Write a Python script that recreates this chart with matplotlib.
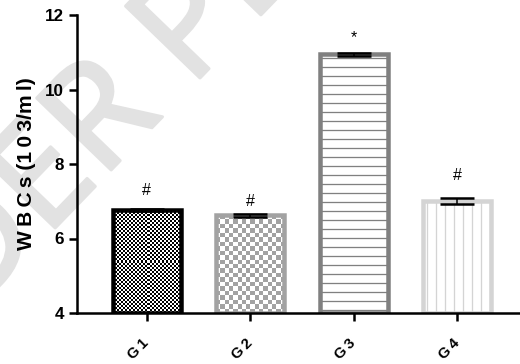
import numpy as np
import matplotlib
matplotlib.use('Agg')
import matplotlib.pyplot as plt
import matplotlib.patheffects as pe
from matplotlib.colors import ListedColormap
from matplotlib.font_manager import FontProperties
from matplotlib.textpath import TextPath

DPI = 108
W, H = 520, 364
THIN = '\u2009'


def px(n):
    # pixel sizes -> points at the output dpi
    return n * 72.0 / DPI


groups = ['G1', 'G2', 'G3', 'G4']
wbc_mean = [6.76, 6.62, 10.95, 7.00]
wbc_err = [0.02, 0.04, 0.04, 0.075]
marks = ['#', '#', '*', '#']
mark_y = [7.28, 7.00, 11.40, 7.68]
yticks = [4, 6, 8, 10, 12]
ybase = 4
ylabel = THIN.join('WBCs') + ' (' + THIN.join('103') + '/m' + THIN + 'l)'

edge_colors = ['black', '#a2a2a2', '#808080', '#d4d4d4']
wm_color = '#e2e2e2'

plt.rcParams['font.family'] = ['Liberation Sans', 'DejaVu Sans']
plt.rcParams['hatch.linewidth'] = px(1.3)

fig = plt.figure(figsize=(W / DPI, H / DPI), dpi=DPI)

# faint watermark behind everything, placed so the P stem foot sits at (200, 286) px
wm_text, wm_angle, wm_em = 'UNDER PEER REVIEW', 46, 145
wm_font = FontProperties(family='Noto Sans', stretch='condensed')
p_off = (TextPath((0, 0), 'UNDER P', size=wm_em, prop=wm_font).get_extents().x1
         - TextPath((0, 0), 'P', size=wm_em, prop=wm_font).get_extents().width)
a = np.radians(wm_angle)
wm_x = 200 - p_off * np.cos(a)
wm_y = 286 - p_off * np.sin(a)
fig.text(wm_x / W, wm_y / H, wm_text, fontproperties=wm_font, fontsize=px(wm_em),
         color=wm_color, rotation=wm_angle, rotation_mode='anchor',
         ha='left', va='baseline', zorder=-1,
         path_effects=[pe.withStroke(linewidth=px(3), foreground=wm_color,
                                     capstyle='round', joinstyle='round')])

ax = fig.add_axes([77 / W, 51 / H, 443 / W, 298 / H])
ax.patch.set_visible(False)

x = np.arange(len(groups))
bars = ax.bar(x, np.subtract(wbc_mean, ybase), bottom=ybase, width=0.66,
              facecolor='white', edgecolor=edge_colors, linewidth=px(4.5), zorder=2)
bars[0].set_facecolor('none')
bars[1].set_facecolor('none')
bars[2].set_hatch('--')
bars[3].set_hatch('||')

ax.set_xlim(-0.673, 3.607)
ax.set_ylim(4, 12)


def checker_fill(bar, cell, color):
    x0, y0 = bar.get_x(), bar.get_y()
    x1, y1 = x0 + bar.get_width(), y0 + bar.get_height()
    (p0, q0), (p1, q1) = ax.transData.transform([(x0, y0), (x1, y1)])
    nx = max(1, int(round((p1 - p0) / cell)))
    ny = max(1, int(round((q1 - q0) / cell)))
    board = np.add.outer(np.arange(ny), np.arange(nx)) % 2
    im = ax.imshow(board, cmap=ListedColormap(['white', color]), extent=(x0, x1, y0, y1),
                   interpolation='nearest', aspect='auto', zorder=1)
    im.set_clip_path(bar)


checker_fill(bars[0], 2, 'black')
checker_fill(bars[1], 4.4, '#a2a2a2')
ax.set_xlim(-0.673, 3.607)
ax.set_ylim(4, 12)

ax.errorbar(x, wbc_mean, yerr=wbc_err, fmt='none', ecolor='black', elinewidth=px(1.5),
            capsize=px(17), capthick=px(2.5), zorder=3)

for xi, m, yi in zip(x, marks, mark_y):
    ax.text(xi, yi, m, ha='center', va='center', fontsize=px(16))

for side in ['top', 'right']:
    ax.spines[side].set_visible(False)
for side in ['left', 'bottom']:
    ax.spines[side].set_linewidth(px(2.5))

ax.set_yticks(yticks)
ax.set_yticklabels([str(t) for t in yticks], fontweight='bold', fontsize=px(17))
ax.tick_params(axis='y', length=px(8), width=px(2.5), pad=px(5))

ax.set_xticks(x)
ax.set_xticklabels([g[0] + THIN + g[1:] for g in groups], rotation=45, ha='right',
                   va='center', rotation_mode='anchor', fontweight='bold', fontsize=px(15))
ax.tick_params(axis='x', length=px(8), width=px(2.5), pad=px(20))

ax.set_ylabel(ylabel, fontweight='bold', fontsize=px(21))
ax.yaxis.set_label_coords((36.5 - 77) / 443, 0.5)

fig.savefig('out.png', dpi=DPI)
